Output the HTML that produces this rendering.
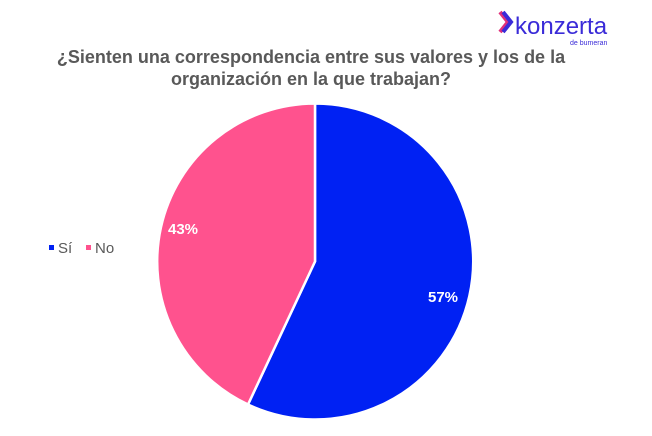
<!DOCTYPE html>
<html><head><meta charset="utf-8"><style>
body{margin:0;background:#fff;width:652px;height:436px;overflow:hidden;position:relative;font-family:"Liberation Sans",sans-serif}
.t{position:absolute;left:0;width:622px;top:46px;text-align:center;color:#595959;font-weight:bold;font-size:18px;line-height:22px}
</style></head><body>
<svg width="652" height="436" style="position:absolute;left:0;top:0">
<path d="M315,261.5 L315,103.5 A158,158 0 1,1 248,404.5 Z" fill="#0021F3" stroke="#fff" stroke-width="2.5"/>
<path d="M315,261.5 L248,404.5 A158,158 0 0,1 315,103.5 Z" fill="#FF528E" stroke="#fff" stroke-width="2.5"/>
<text x="168" y="234" fill="#fff" font-weight="bold" font-size="15" font-family="Liberation Sans">43%</text>
<text x="428" y="302" fill="#fff" font-weight="bold" font-size="15" font-family="Liberation Sans">57%</text>
<rect x="49" y="245" width="5" height="5" fill="#0021F3"/>
<text x="58" y="253" fill="#595959" font-size="15" font-family="Liberation Sans">Sí</text>
<rect x="86" y="245" width="5" height="5" fill="#FF528E"/>
<text x="95" y="253" fill="#595959" font-size="15" font-family="Liberation Sans">No</text>
<path d="M500,12 L508,22 L500,32" fill="none" stroke="#e0307a" stroke-width="4"/>
<path d="M503,12 L511,22 L503,32" fill="none" stroke="#3a2bd8" stroke-width="4"/>
<text x="515" y="34" fill="#3a2bd8" font-size="24" font-family="Liberation Sans">konzerta</text>
<text x="570" y="45" fill="#3a2bd8" font-size="7" font-family="Liberation Sans">de bumeran</text>
</svg>
<div class="t">¿Sienten una correspondencia entre sus valores y los de la<br>organización en la que trabajan?</div>
</body></html>
